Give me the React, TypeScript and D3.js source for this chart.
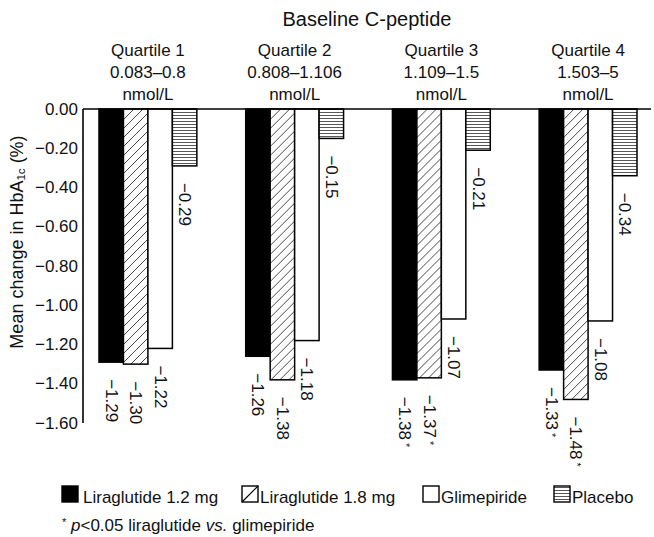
import React from "react";
import * as d3 from "d3";

// Baseline C-peptide quartiles
const quartiles = ["Quartile 1", "Quartile 2", "Quartile 3", "Quartile 4"];
const quartileRanges = ["0.083–0.8", "0.808–1.106", "1.109–1.5", "1.503–5"];
const quartileUnit = "nmol/L";

// Treatment arms
const seriesNames = ["Liraglutide 1.2 mg", "Liraglutide 1.8 mg", "Glimepiride", "Placebo"];

// Mean change in HbA1c (%) per quartile
const lira12 = [-1.29, -1.26, -1.38, -1.33];
const lira18 = [-1.3, -1.38, -1.37, -1.48];
const glimepiride = [-1.22, -1.18, -1.07, -1.08];
const placebo = [-0.29, -0.15, -0.21, -0.34];

// p<0.05 liraglutide vs. glimepiride
const lira12Sig = [false, false, true, true];
const lira18Sig = [false, false, true, true];
const glimepirideSig = [false, false, false, false];
const placeboSig = [false, false, false, false];

const yTicks = [0, -0.2, -0.4, -0.6, -0.8, -1.0, -1.2, -1.4, -1.6];

const W = 654;
const H = 537;
const FONT = "'Liberation Sans', Arial, Helvetica, sans-serif";

const seriesValues = [lira12, lira18, glimepiride, placebo];
const seriesSig = [lira12Sig, lira18Sig, glimepirideSig, placeboSig];
const fills = ["#000", "url(#hatch)", "#fff", "url(#stripes)"];

export default function App() {
  const axisX = 83;
  const y = d3.scaleLinear().domain([0, -1.6]).range([109, 423]);
  const x0 = d3
    .scaleBand<string>()
    .domain(quartiles)
    .range([axisX, 653])
    .paddingInner(0.333)
    .paddingOuter(0.109);
  const x1 = d3
    .scaleBand<string>()
    .domain(seriesNames)
    .range([0, x0.bandwidth()]);
  const fmt = d3.format(".2f");

  const rows = quartiles.map((q, qi) => ({
    q,
    bars: seriesNames.map((s, si) => ({
      s,
      si,
      v: seriesValues[si][qi],
      sig: seriesSig[si][qi],
    })),
  }));

  const legendX = [62, 242, 423, 554];

  return (
    <svg width={W} height={H} style={{ position: "absolute", left: 0, top: 0 }} fontFamily={FONT}>
      <defs>
        <pattern id="hatch" patternUnits="userSpaceOnUse" width="9" height="9">
          <rect width="9" height="9" fill="#fff" />
          <path d="M-1,10 L10,-1 M-2,2 L2,-2 M7,11 L11,7" stroke="#333" strokeWidth="0.9" />
        </pattern>
        <pattern id="stripes" patternUnits="userSpaceOnUse" width="6" height="3">
          <rect width="6" height="3" fill="#fff" />
          <line x1="0" x2="6" y1="1.5" y2="1.5" stroke="#444" strokeWidth="0.9" />
        </pattern>
      </defs>
      <rect width={W} height={H} fill="#fff" />

      {/* title and quartile headers */}
      <text x={367} y={26} fontSize={20} textAnchor="middle" fill="#111">
        Baseline C-peptide
      </text>
      {quartiles.map((q, i) => {
        const cx = (x0(q) as number) + x0.bandwidth() / 2;
        return (
          <g key={q} fontSize={17} fill="#111" textAnchor="middle">
            <text x={cx} y={56}>{q}</text>
            <text x={cx} y={78}>{quartileRanges[i]}</text>
            <text x={cx} y={100}>{quartileUnit}</text>
          </g>
        );
      })}

      {/* bars */}
      {rows.map((r) => (
        <g key={r.q} transform={`translate(${x0(r.q)},0)`}>
          {r.bars.map((b) => {
            const bx = x1(b.s) as number;
            const top = y(0);
            const bottom = y(b.v);
            const cx = bx + x1.bandwidth() / 2;
            return (
              <g key={b.s}>
                <rect
                  x={bx}
                  y={top}
                  width={x1.bandwidth()}
                  height={bottom - top}
                  fill={fills[b.si]}
                  stroke="#000"
                  strokeWidth={1.5}
                />
                <text
                  transform={`translate(${cx},${bottom + 17}) rotate(90)`}
                  fontSize={17}
                  dominantBaseline="central"
                  fill="#111"
                >
                  {fmt(b.v).replace("-", "−")}
                  {b.sig ? <tspan fontSize={11} dy={-1}>{" *"}</tspan> : null}
                </text>
              </g>
            );
          })}
        </g>
      ))}

      {/* axes */}
      <line x1={axisX} x2={651} y1={y(0)} y2={y(0)} stroke="#000" strokeWidth={1.6} />
      <line x1={axisX} x2={axisX} y1={y(0)} y2={y(-1.6)} stroke="#000" strokeWidth={1.6} />
      {yTicks.map((t) => (
        <text
          key={t}
          x={78}
          y={y(t)}
          fontSize={17}
          textAnchor="end"
          dominantBaseline="central"
          fill="#111"
        >
          {t === 0 ? "0.00" : fmt(t).replace("-", "−")}
        </text>
      ))}
      <text
        transform={`translate(17,242) rotate(-90)`}
        fontSize={18}
        textAnchor="middle"
        dominantBaseline="central"
        fill="#111"
      >
        Mean change in HbA
        <tspan fontSize={11.5} dy={4}>1c</tspan>
        <tspan dy={-4}>{" (%)"}</tspan>
      </text>

      {/* legend */}
      {seriesNames.map((s, i) => (
        <g key={s} transform={`translate(${legendX[i]},486)`}>
          <rect
            x={0}
            y={0}
            width={16}
            height={16}
            fill={i === 1 ? "#fff" : fills[i]}
            stroke="#000"
            strokeWidth={1.4}
          />
          {i === 1 ? <line x1={0} y1={16} x2={16} y2={0} stroke="#000" strokeWidth={1.2} /> : null}
          <text x={i === 0 ? 21 : 18} y={17} fontSize={17} fill="#111">
            {s}
          </text>
        </g>
      ))}

      {/* footnote */}
      <text x={62} y={531} fontSize={17} fill="#111">
        <tspan fontSize={11} dy={-5}>*</tspan>
        <tspan dy={5} fontStyle="italic">{" p"}</tspan>
        <tspan>{"<0.05 liraglutide "}</tspan>
        <tspan fontStyle="italic">vs.</tspan>
        <tspan>{" glimepiride"}</tspan>
      </text>
    </svg>
  );
}
